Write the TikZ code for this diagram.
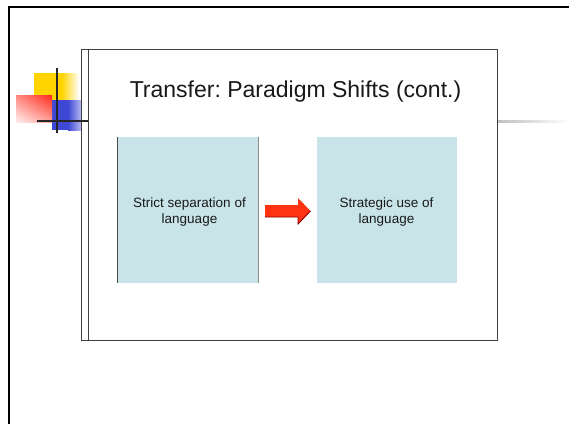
\documentclass[tikz,border=0pt]{standalone}
\usepackage{fontspec}
\setmainfont{Liberation Sans}
\frenchspacing
\usetikzlibrary{shadings}
\definecolor{boxfill}{HTML}{C8E4E8}
\definecolor{arrowred}{HTML}{FF3311}
\definecolor{gold}{HTML}{FFD400}
\definecolor{deco blue}{HTML}{3F48D6}
\definecolor{deco red}{HTML}{FF2A1A}
\begin{document}
\begin{tikzpicture}[x=1pt,y=-1pt,
  frame/.style={line width=2pt,black},
  slideline/.style={line width=0.9pt,draw=black!75},
  panel/.style={fill=boxfill,draw=none,minimum width=140pt,minimum height=146pt,inner sep=0pt},
  paneltext/.style={align=center,font=\fontsize{13.5}{16}\selectfont,text=black!90,inner sep=0pt,anchor=base},
  title/.style={font=\fontsize{23}{27}\selectfont,text=black!90,anchor=base,inner sep=0pt}]
\useasboundingbox (0,0) rectangle (569,424);
\fill[white] (0,0) rectangle (569,424);
% outer frame
\draw[frame] (9,424) -- (9,7) -- (569,7);
% decoration squares
\fill[gold] (34,73) rectangle (62,117);
\shade[left color=gold,right color=white] (62,73) rectangle (79,117);
\fill[deco blue] (52,100) rectangle (68,130);
\shade[left color=deco blue,right color=white] (68,100) rectangle (89,130);
\shade[upper right=deco red,upper left=deco red!55,lower right=deco red!45,lower left=deco red!8] (16,95) rectangle (52,122);
% faint horizontal rule to the right
\shade[left color=black!25,right color=white] (497,120) rectangle (569,122.5);
% slide
\fill[white] (81,49) rectangle (497,340);
\draw[slideline] (81,49) rectangle (497,340);
\draw[slideline] (88,49) -- (88,340);
% decoration cross lines
\draw[line width=2pt,black!85] (57,68) -- (57,133);
\draw[line width=2.2pt,black!85] (37,121) -- (88,121);
% title
\node[title] (title) at (295.5,97) {Transfer: Paradigm Shifts (cont.)};
% panels
\node[panel] (left) at (188,210) {};
\draw[black!70,line width=0.7pt] (left.north west) -- (left.south west);
\draw[black!45,line width=0.6pt] (left.north east) -- (left.south east);
\node[paneltext] (lefttext) at (189.5,207) {Strict separation of};
\node[paneltext] (lefttext2) at (189.5,223) {language};
\node[panel] (right) at (387,210) {};
\node[paneltext] (righttext) at (386.5,207) {Strategic use of};
\node[paneltext] (righttext2) at (386.5,223) {language};
% arrow
\fill[arrowred]
  (265,205) -- (298,205) -- (298,198) -- (310.5,211) -- (298,224) -- (298,217) -- (265,217) -- cycle;
\draw[red!55!black,line width=0.9pt] (265,217) -- (298,217) -- (298,224) -- (310.5,211);
\end{tikzpicture}
\end{document}
